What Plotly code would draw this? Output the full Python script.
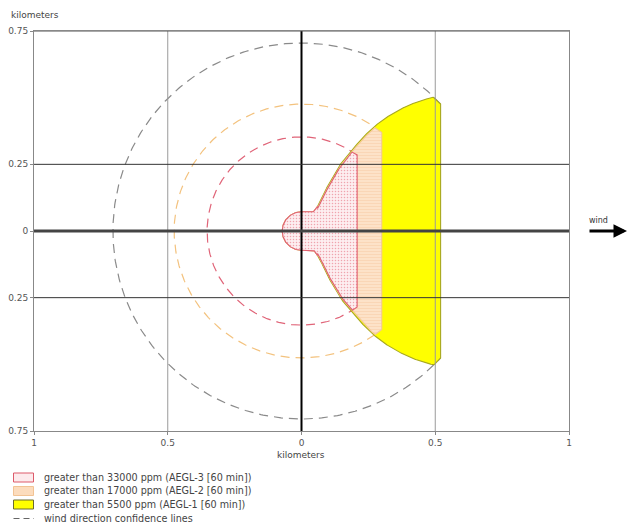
import numpy as np
import plotly.graph_objects as go

# Footprint edge profile: downwind distance (km) vs crosswind half-width (km)
flare_x = [0.0, 0.045, 0.052, 0.071, 0.096, 0.121, 0.152, 0.189, 0.227, 0.264,
           0.302, 0.351, 0.401, 0.451, 0.489, 0.53]
flare_w = [0.072, 0.072, 0.079, 0.110, 0.166, 0.210, 0.260, 0.304, 0.348, 0.385,
           0.416, 0.447, 0.472, 0.491, 0.501, 0.506]

# Threat zones (drawn largest first)
zone_labels = ["greater than 5500 ppm (AEGL-1 [60 min])",
               "greater than 17000 ppm (AEGL-2 [60 min])",
               "greater than 33000 ppm (AEGL-3 [60 min])"]
zone_reach = [0.52, 0.30, 0.208]        # downwind extent, km
zone_radius = [0.705, 0.476, 0.353]     # confidence-line radius, km
zone_inset = [0.0, 0.006, 0.008]        # inner zones sit just inside the outer edge

x_ticks = [-1, -0.5, 0, 0.5, 1]
x_tick_text = ["1", "0.5", "0", "0.5", "1"]
y_ticks = [-0.75, -0.25, 0, 0.25, 0.75]
y_tick_text = ["0.75", "0.25", "0", "0.25", "0.75"]

zone_style = [
    dict(line="#a8a820", bg="#ffff00", fg="#ffff00", shape="", dash_col="#8a8a8a"),
    dict(line="#f4c898", bg="#fde2c8", fg="#f8cfaa", shape="-", dash_col="#f3c27e"),
    dict(line="#e06070", bg="#fdeef0", fg="#f0a4ae", shape=".", dash_col="#e06478"),
]

W0 = flare_w[0]


def zone_outline(reach, radius, inset):
    xs = np.linspace(0, reach, 500)
    w = np.interp(xs, flare_x, flare_w) - inset * (xs > 0.06)
    circ = np.sqrt(np.clip(radius ** 2 - xs ** 2, 0, None))
    top = np.minimum(w, circ)
    th = np.linspace(np.pi / 2, 3 * np.pi / 2, 80)
    nose_x = W0 * np.cos(th)
    nose_y = W0 * np.sin(th)
    px = np.concatenate([nose_x, xs, [reach], xs[::-1]])
    py = np.concatenate([nose_y, -top, [top[-1]], top[::-1]])
    return px, py


def confidence_arc(reach, radius):
    yc = np.sqrt(max(radius ** 2 - reach ** 2, 0))
    a0 = np.arctan2(yc, reach)
    th = np.linspace(a0, 2 * np.pi - a0, 400)
    return radius * np.cos(th), radius * np.sin(th)


fig = go.Figure()

# confidence lines first, zones painted over them
for reach, radius, st in zip(zone_reach, zone_radius, zone_style):
    cx, cy = confidence_arc(reach, radius)
    fig.add_trace(go.Scatter(x=cx, y=cy, mode="lines", hoverinfo="skip",
                             line=dict(color=st["dash_col"], width=1.2, dash="9px,6px")))

for label, reach, radius, inset, st in zip(zone_labels, zone_reach, zone_radius,
                                           zone_inset, zone_style):
    px, py = zone_outline(reach, radius, inset)
    kw = {}
    if st["shape"]:
        kw["fillpattern"] = dict(shape=st["shape"], bgcolor=st["bg"], fgcolor=st["fg"],
                                 size=3, solidity=0.2, fillmode="replace")
    fig.add_trace(go.Scatter(x=px, y=py, mode="lines", fill="toself", name=label,
                             fillcolor=st["bg"], line=dict(color=st["line"], width=1.1),
                             hoverinfo="skip", **kw))

shapes = []
# grid and main axes drawn above the zones
for xv, col, wd in [(-0.5, "#9a9a9a", 1), (0.5, "#9a9a9a", 1), (0, "#000000", 2)]:
    shapes.append(dict(type="line", xref="x", yref="y", x0=xv, x1=xv, y0=-0.75, y1=0.75,
                       line=dict(color=col, width=wd), layer="above"))
for yv, col, wd in [(-0.25, "#333333", 1), (0.25, "#333333", 1), (0, "#444444", 3)]:
    shapes.append(dict(type="line", xref="x", yref="y", x0=-1, x1=1, y0=yv, y1=yv,
                       line=dict(color=col, width=wd), layer="above"))
shapes.append(dict(type="line", xref="x", yref="y", x0=-1, x1=1, y0=0.75, y1=0.75,
                   line=dict(color="#555555", width=1), layer="above"))


# legend (bottom left)
def py_px(y):
    return (431 - y) / 400.0


def px_px(x):
    return (x - 34) / 535.0


legend_rows = [
    ("greater than 33000 ppm (AEGL-3 [60 min])", "#fdeaec", "#dd5a6a"),
    ("greater than 17000 ppm (AEGL-2 [60 min])", "#fcdcbd", "#f2c394"),
    ("greater than 5500 ppm (AEGL-1 [60 min])", "#ffff00", "#6b6b30"),
    ("wind direction confidence lines", None, "#666666"),
]
row_y = [477.5, 491, 504.5, 518.5]
annotations = []
for (txt, fillc, linec), yy in zip(legend_rows, row_y):
    if fillc:
        shapes.append(dict(type="rect", xref="paper", yref="paper",
                           x0=px_px(13.5), x1=px_px(33.5), y0=py_px(yy + 4.5), y1=py_px(yy - 4.5),
                           fillcolor=fillc, line=dict(color=linec, width=1)))
    else:
        shapes.append(dict(type="line", xref="paper", yref="paper",
                           x0=px_px(13.5), x1=px_px(34), y0=py_px(yy), y1=py_px(yy),
                           line=dict(color=linec, width=1, dash="6px,4px")))
    annotations.append(dict(text=txt, xref="paper", yref="paper", x=px_px(42), y=py_px(yy),
                            xanchor="left", yanchor="middle", showarrow=False,
                            font=dict(size=9.6, color="#444444")))

annotations += [
    dict(text="kilometers", xref="paper", yref="paper", x=px_px(35), y=py_px(15),
         xanchor="center", yanchor="middle", showarrow=False, font=dict(size=9, color="#444444")),
    dict(text="kilometers", xref="paper", yref="paper", x=px_px(301), y=py_px(455),
         xanchor="center", yanchor="middle", showarrow=False, font=dict(size=9, color="#444444")),
    dict(text="wind", xref="paper", yref="paper", x=px_px(598), y=py_px(220),
         xanchor="center", yanchor="middle", showarrow=False, font=dict(size=8, color="#333333")),
    dict(text="", xref="paper", yref="y", x=px_px(627), y=0, ax=-39, ay=0,
         showarrow=True, arrowhead=2, arrowsize=0.9, arrowwidth=3, arrowcolor="#000000"),
]

fig.update_layout(
    width=628, height=523,
    margin=dict(l=34, r=59, t=31, b=92),
    paper_bgcolor="white", plot_bgcolor="white",
    showlegend=False,
    font=dict(family="DejaVu Sans", size=9, color="#555555"),
    shapes=shapes, annotations=annotations,
    xaxis=dict(range=[-1, 1], tickvals=x_ticks, ticktext=x_tick_text, showgrid=False,
               zeroline=False, showline=True, mirror=True, linecolor="#888888",
               ticks="outside", ticklen=3, tickcolor="#888888", fixedrange=True,
               automargin=False),
    yaxis=dict(range=[-0.75, 0.75], tickvals=y_ticks, ticktext=y_tick_text, showgrid=False,
               zeroline=False, showline=True, mirror=True, linecolor="#888888",
               ticks="outside", ticklen=3, tickcolor="#888888", fixedrange=True,
               automargin=False),
)

fig.write_html("out.html")
